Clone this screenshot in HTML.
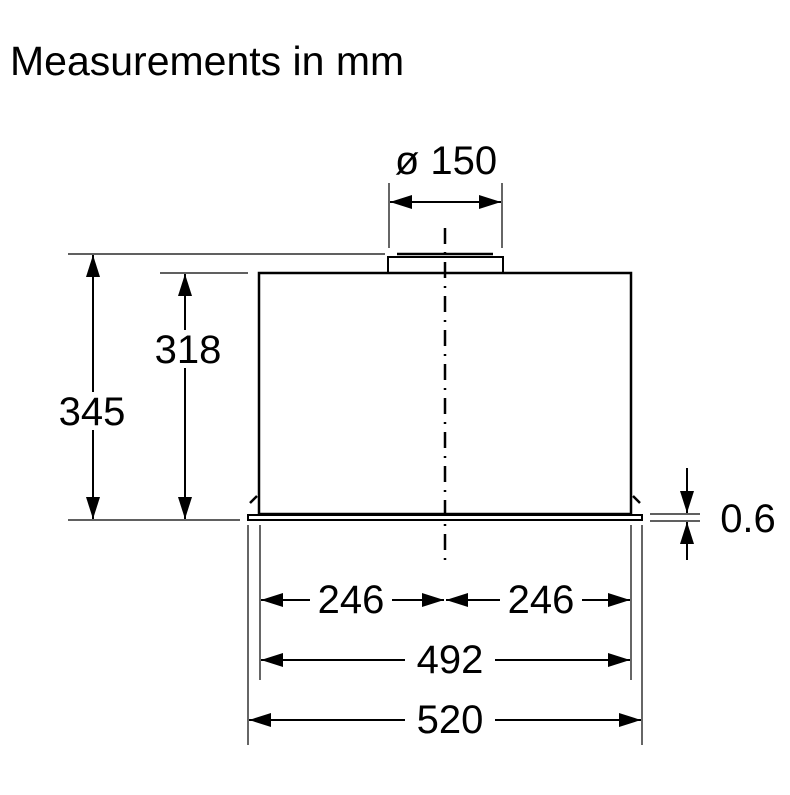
<!DOCTYPE html>
<html><head><style>body{margin:0;background:#fff}</style></head><body>
<svg width="790" height="790" xmlns="http://www.w3.org/2000/svg" font-family="Liberation Sans, sans-serif">
<defs>
<marker id="b" viewBox="0 0 22 14" refX="22" refY="7" markerWidth="22" markerHeight="14" markerUnits="userSpaceOnUse" orient="auto-start-reverse"><path d="M0,0 L22,7 L0,14z" fill="#000"/></marker>
</defs>
<text x="10" y="75" font-size="41">Measurements in mm</text>
<g stroke="#000" fill="none">
<rect x="259" y="273" width="372" height="241" stroke-width="2.5"/>
<rect x="388" y="257" width="115" height="16" stroke-width="2"/>
<line x1="397" y1="254" x2="493" y2="254" stroke-width="2.5"/>
<rect x="248" y="515" width="394" height="5" stroke-width="2"/>
<path d="M250,503 L257,496 M640,503 L633,496" stroke-width="2.5"/>
<line x1="445" y1="228" x2="445" y2="560" stroke-width="2.5" stroke-dasharray="16,8,2,8"/>
<g stroke-width="1.2">
<line x1="68" y1="254" x2="385" y2="254"/>
<line x1="160" y1="273" x2="248" y2="273"/>
<line x1="68" y1="520" x2="240" y2="520"/>
<line x1="389" y1="183" x2="389" y2="248"/>
<line x1="502" y1="183" x2="502" y2="248"/>
<line x1="650" y1="514" x2="700" y2="514"/>
<line x1="650" y1="521" x2="700" y2="521"/>
<line x1="260" y1="525" x2="260" y2="680"/>
<line x1="631" y1="525" x2="631" y2="680"/>
<line x1="248" y1="525" x2="248" y2="745"/>
<line x1="642" y1="525" x2="642" y2="745"/>
</g>
<g stroke-width="2">
<line x1="93" y1="255" x2="93" y2="519" marker-start="url(#b)" marker-end="url(#b)"/>
<line x1="185" y1="274" x2="185" y2="519" marker-start="url(#b)" marker-end="url(#b)"/>
<line x1="390" y1="202" x2="501" y2="202" marker-start="url(#b)" marker-end="url(#b)"/>
<line x1="687" y1="468" x2="687" y2="513" marker-end="url(#b)"/>
<line x1="687" y1="560" x2="687" y2="522" marker-end="url(#b)"/>
<line x1="261" y1="600" x2="310" y2="600" marker-start="url(#b)"/>
<line x1="392" y1="600" x2="444" y2="600" marker-end="url(#b)"/>
<line x1="446" y1="600" x2="500" y2="600" marker-start="url(#b)"/>
<line x1="582" y1="600" x2="630" y2="600" marker-end="url(#b)"/>
<line x1="261" y1="660" x2="405" y2="660" marker-start="url(#b)"/>
<line x1="495" y1="660" x2="630" y2="660" marker-end="url(#b)"/>
<line x1="249" y1="720" x2="405" y2="720" marker-start="url(#b)"/>
<line x1="495" y1="720" x2="641" y2="720" marker-end="url(#b)"/>
</g>
</g>
<rect x="153" y="330" width="68" height="38" fill="#fff"/>
<rect x="57" y="392" width="70" height="38" fill="#fff"/>
<g font-size="40" fill="#000" text-anchor="middle">
<text x="446" y="174">ø 150</text>
<text x="188" y="363">318</text>
<text x="92" y="425">345</text>
<text x="748" y="532">0.6</text>
<text x="351" y="613">246</text>
<text x="541" y="613">246</text>
<text x="450" y="673">492</text>
<text x="450" y="733">520</text>
</g>
</svg>
</body></html>
